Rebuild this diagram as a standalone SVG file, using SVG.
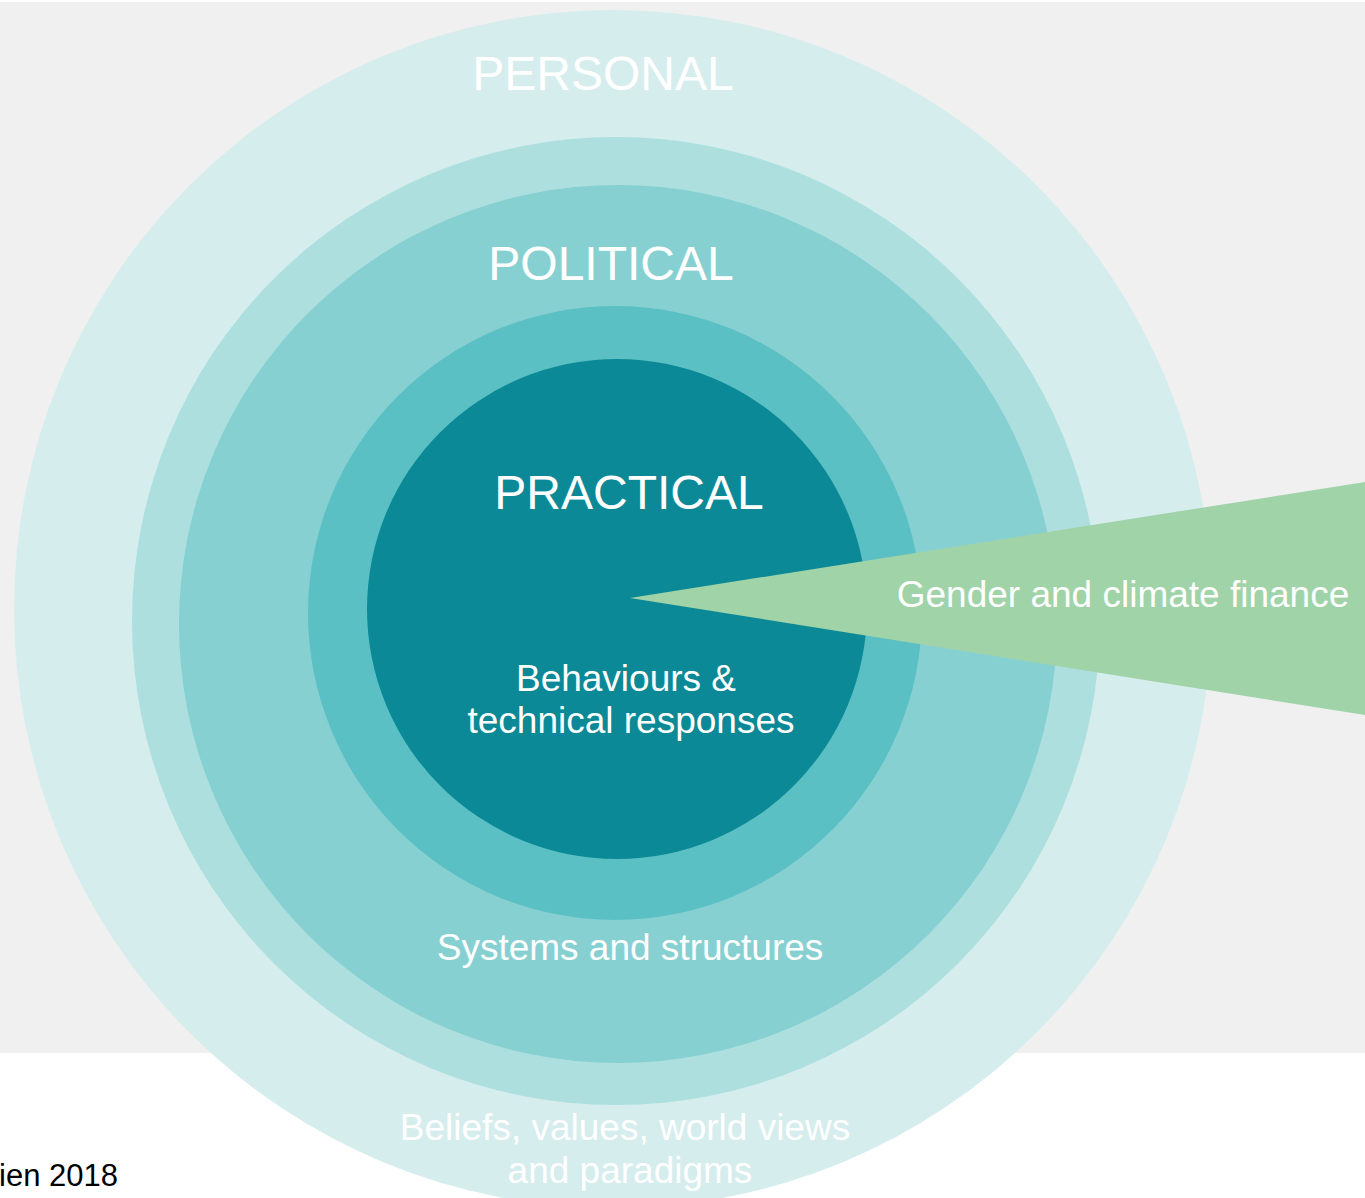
<svg xmlns="http://www.w3.org/2000/svg" width="1365" height="1198" viewBox="0 0 1365 1198">
<style>
text{font-family:"Liberation Sans",Arial,sans-serif;fill:#ffffff;text-anchor:middle}
.big{font-size:48px}
.mid{font-size:37px}
.src{font-size:31px;fill:#000000;text-anchor:end}
</style>
<rect x="0" y="0" width="1365" height="1198" fill="#ffffff"/>
<rect x="0" y="2" width="1365" height="1051" fill="#f0f0f0"/>
<g id="personal">
<circle cx="613" cy="609" r="599" fill="#d6eded"/>
</g>
<g id="political-outer">
<circle cx="616" cy="621" r="484" fill="#aedfdf"/>
</g>
<g id="political">
<circle cx="618" cy="624" r="439" fill="#87d0d2"/>
</g>
<g id="practical-outer">
<circle cx="615" cy="613" r="307" fill="#5bc0c4"/>
</g>
<g id="practical">
<circle cx="617" cy="609" r="250" fill="#0c8996"/>
</g>
<g id="connectors">
<polygon id="finance-wedge" points="630,598 1365,482 1365,715" fill="#a0d3a8"/>
</g>
<g id="labels">
<text class="big" x="603" y="90">PERSONAL</text>
<text class="big" x="611" y="280">POLITICAL</text>
<text class="big" x="629" y="509">PRACTICAL</text>
<text class="mid" x="626" y="691">Behaviours &amp;</text>
<text class="mid" x="631" y="733">technical responses</text>
<text class="mid" x="630" y="960">Systems and structures</text>
<text class="mid" x="625" y="1140">Beliefs, values, world views</text>
<text class="mid" x="630" y="1183">and paradigms</text>
<text class="mid" x="1123" y="607">Gender and climate finance</text>
<text class="src" x="118" y="1186">ien 2018</text>
</g>
</svg>
